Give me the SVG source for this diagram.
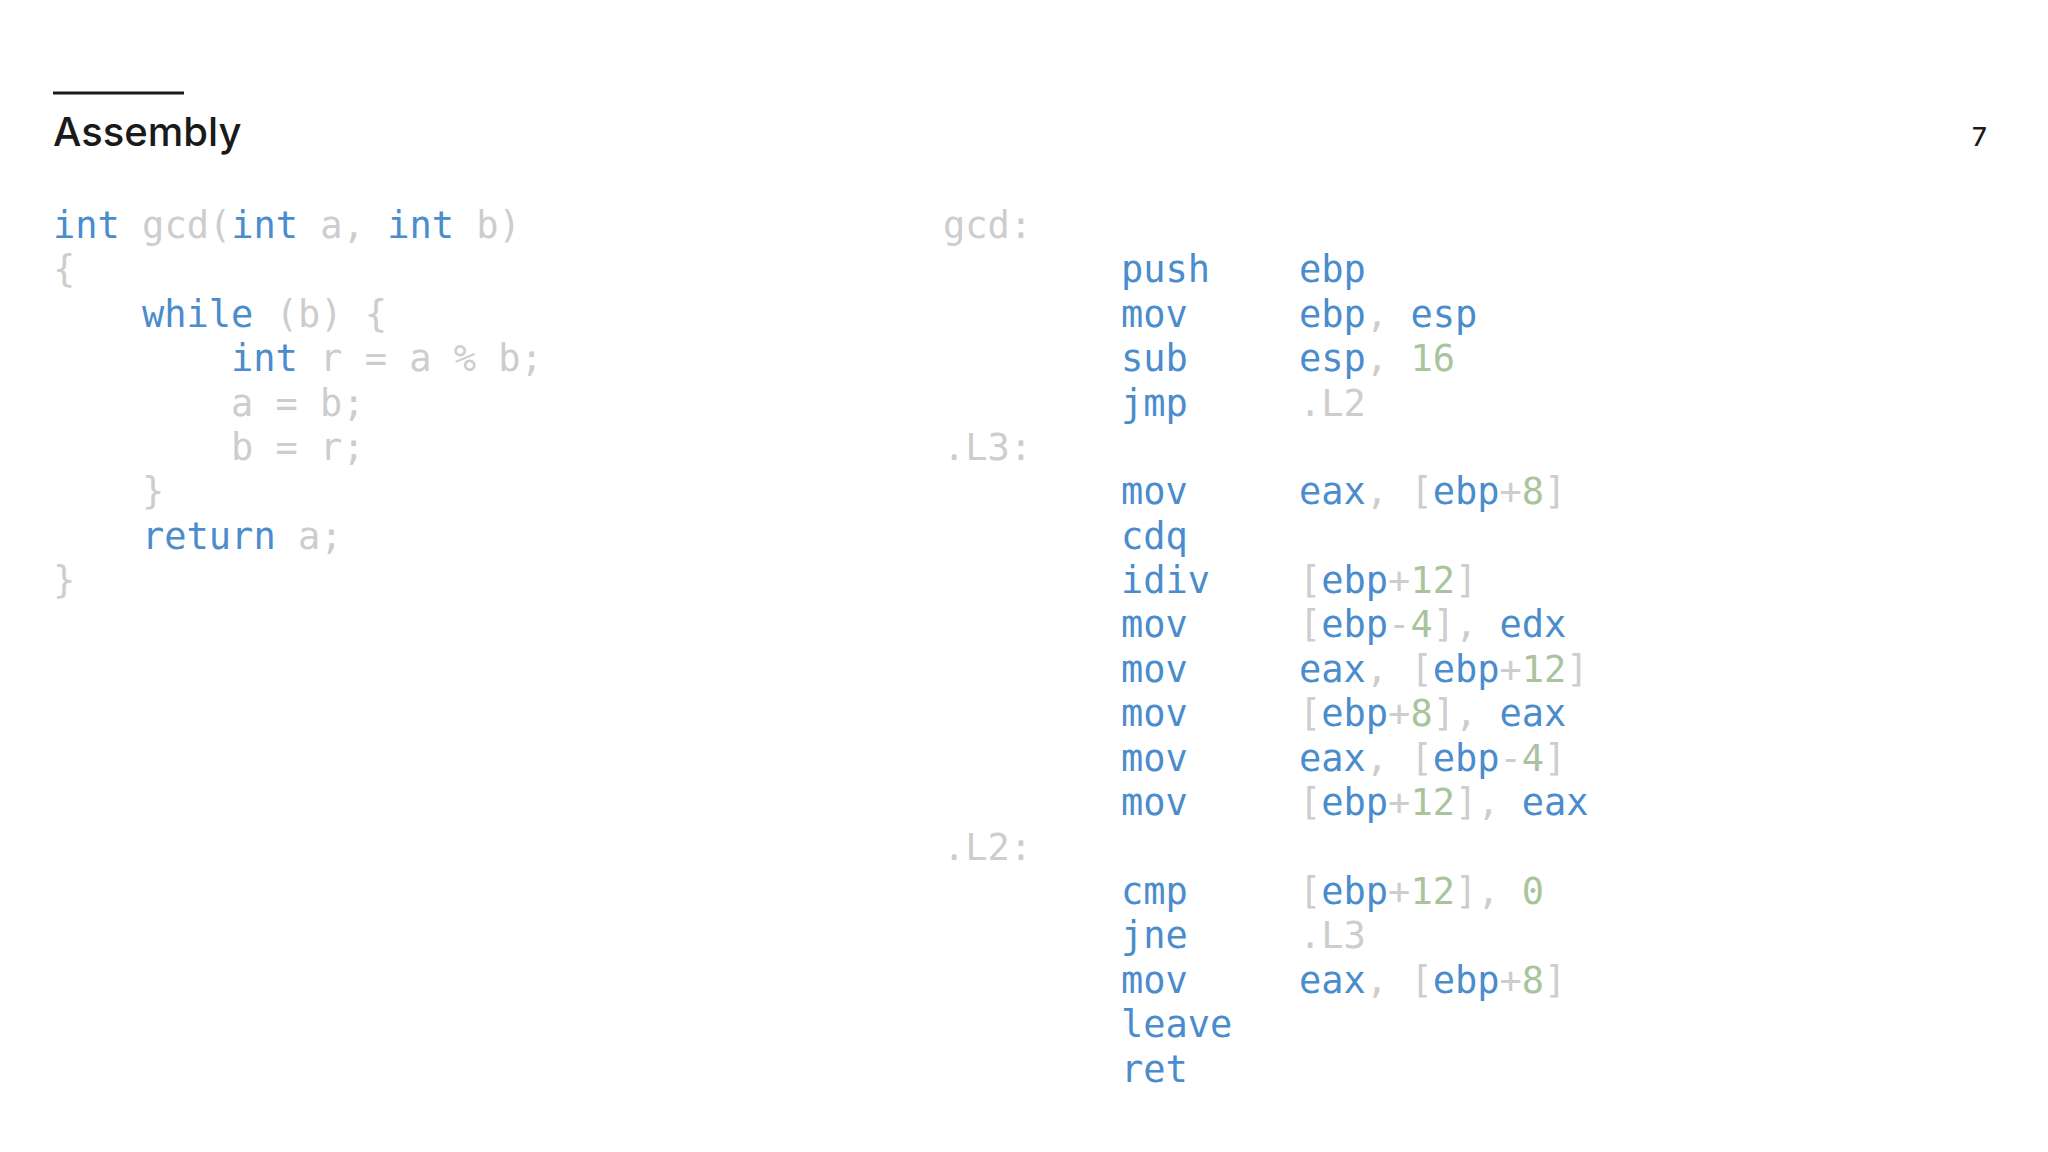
<svg xmlns="http://www.w3.org/2000/svg" width="2048" height="1152" viewBox="0 0 2048 1152">
<style>
.c{font-family:"DejaVu Sans Mono",monospace;font-size:37px;fill:#cdcdcd}
.k{fill:#4a8ccc}
.n{fill:#a9c49c}
.t{font-family:"Inter","Liberation Sans",sans-serif;fill:#1a1a1a}
</style>
<rect width="2048" height="1152" fill="#ffffff"/>
<g id="header">
<line x1="53" y1="93" x2="184" y2="93" stroke="#1a1a1a" stroke-width="3"/>
<text class="t" x="53" y="146" font-size="40" font-weight="500">Assembly</text>
<text class="t" x="1972" y="146" font-size="26" font-weight="500">7</text>
</g>
<g id="c-code" class="c">
<text x="53" y="238"><tspan class="k">int</tspan> gcd(<tspan class="k">int</tspan> a, <tspan class="k">int</tspan> b)</text>
<text x="53" y="282">{</text>
<text x="142" y="327"><tspan class="k">while</tspan> (b) {</text>
<text x="231" y="371"><tspan class="k">int</tspan> r = a % b;</text>
<text x="231" y="416">a = b;</text>
<text x="231" y="460">b = r;</text>
<text x="142" y="504">}</text>
<text x="142" y="549"><tspan class="k">return</tspan> a;</text>
<text x="53" y="593">}</text>
</g>
<g id="asm-code" class="c">
<text x="943" y="238">gcd:</text>
<text x="1121" y="282"><tspan class="k">push</tspan><tspan x="1299" class="k">ebp</tspan></text>
<text x="1121" y="327"><tspan class="k">mov</tspan><tspan x="1299"><tspan class="k">ebp</tspan>, <tspan class="k">esp</tspan></tspan></text>
<text x="1121" y="371"><tspan class="k">sub</tspan><tspan x="1299"><tspan class="k">esp</tspan>, <tspan class="n">16</tspan></tspan></text>
<text x="1121" y="416"><tspan class="k">jmp</tspan><tspan x="1299">.L2</tspan></text>
<text x="943" y="460">.L3:</text>
<text x="1121" y="504"><tspan class="k">mov</tspan><tspan x="1299"><tspan class="k">eax</tspan>, [<tspan class="k">ebp</tspan>+<tspan class="n">8</tspan>]</tspan></text>
<text x="1121" y="549"><tspan class="k">cdq</tspan></text>
<text x="1121" y="593"><tspan class="k">idiv</tspan><tspan x="1299">[<tspan class="k">ebp</tspan>+<tspan class="n">12</tspan>]</tspan></text>
<text x="1121" y="637"><tspan class="k">mov</tspan><tspan x="1299">[<tspan class="k">ebp</tspan>-<tspan class="n">4</tspan>], <tspan class="k">edx</tspan></tspan></text>
<text x="1121" y="682"><tspan class="k">mov</tspan><tspan x="1299"><tspan class="k">eax</tspan>, [<tspan class="k">ebp</tspan>+<tspan class="n">12</tspan>]</tspan></text>
<text x="1121" y="726"><tspan class="k">mov</tspan><tspan x="1299">[<tspan class="k">ebp</tspan>+<tspan class="n">8</tspan>], <tspan class="k">eax</tspan></tspan></text>
<text x="1121" y="771"><tspan class="k">mov</tspan><tspan x="1299"><tspan class="k">eax</tspan>, [<tspan class="k">ebp</tspan>-<tspan class="n">4</tspan>]</tspan></text>
<text x="1121" y="815"><tspan class="k">mov</tspan><tspan x="1299">[<tspan class="k">ebp</tspan>+<tspan class="n">12</tspan>], <tspan class="k">eax</tspan></tspan></text>
<text x="943" y="860">.L2:</text>
<text x="1121" y="904"><tspan class="k">cmp</tspan><tspan x="1299">[<tspan class="k">ebp</tspan>+<tspan class="n">12</tspan>], <tspan class="n">0</tspan></tspan></text>
<text x="1121" y="948"><tspan class="k">jne</tspan><tspan x="1299">.L3</tspan></text>
<text x="1121" y="993"><tspan class="k">mov</tspan><tspan x="1299"><tspan class="k">eax</tspan>, [<tspan class="k">ebp</tspan>+<tspan class="n">8</tspan>]</tspan></text>
<text x="1121" y="1037"><tspan class="k">leave</tspan></text>
<text x="1121" y="1082"><tspan class="k">ret</tspan></text>
</g>
</svg>
